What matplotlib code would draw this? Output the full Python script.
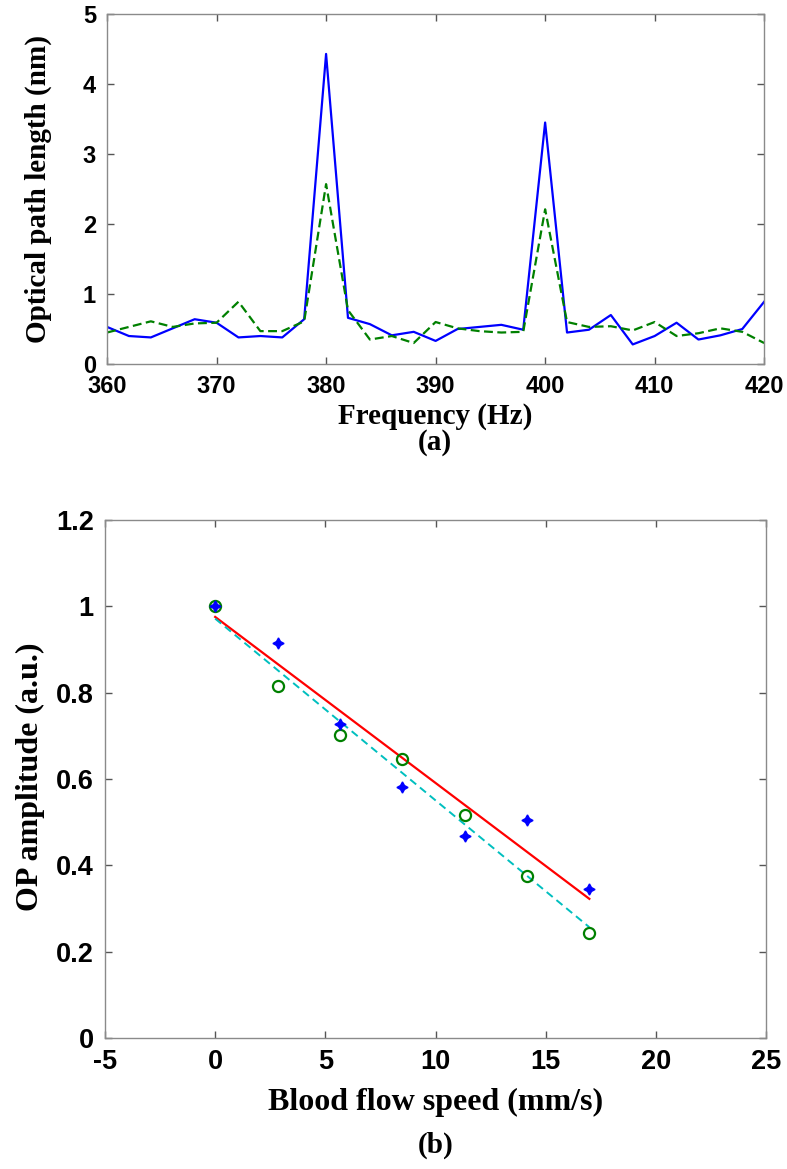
#!/usr/bin/env python3

import numpy as np
import matplotlib
matplotlib.use('Agg')
import matplotlib.pyplot as plt

# (a) spectrum, 2 Hz bins
freq = [360 + 2 * i for i in range(31)]
opl_blue = [0.53, 0.40, 0.38, 0.51, 0.64, 0.59, 0.38, 0.40, 0.38, 0.64,
            4.43, 0.66, 0.57, 0.41, 0.46, 0.33, 0.50, 0.53, 0.56, 0.49,
            3.45, 0.45, 0.49, 0.70, 0.28, 0.40, 0.59, 0.35, 0.41, 0.50, 0.89]
opl_green = [0.45, 0.53, 0.61, 0.53, 0.58, 0.59, 0.89, 0.47, 0.47, 0.61,
             2.57, 0.77, 0.35, 0.40, 0.30, 0.60, 0.51, 0.47, 0.45, 0.46,
             2.21, 0.60, 0.53, 0.54, 0.48, 0.60, 0.40, 0.44, 0.51, 0.46, 0.30]

# (b) amplitude vs flow speed
speed = [0.0, 2.83, 5.66, 8.49, 11.32, 14.15, 16.98]
amp_star = [1.0, 0.915, 0.728, 0.582, 0.468, 0.505, 0.344]
amp_circ = [1.0, 0.816, 0.701, 0.646, 0.516, 0.376, 0.243]

plt.rcParams['axes.unicode_minus'] = False

tick_font = 'Liberation Sans'
lab_font = 'Liberation Serif'
spine_col = '#8a8a8a'
dkgreen = (0, 0.5, 0)


def style_axes(ax, fs):
    for s in ax.spines.values():
        s.set_color(spine_col)
        s.set_linewidth(1.0)
    ax.tick_params(direction='in', length=5, width=1, color='#555555',
                   top=True, right=True, pad=8, labelsize=fs)
    for lab in ax.get_xticklabels() + ax.get_yticklabels():
        lab.set_fontfamily(tick_font)
        lab.set_fontweight('bold')


fig = plt.figure(figsize=(7.87, 11.69), dpi=100)

####### (a)
ax1 = fig.add_axes([0.136, 0.6886, 0.835, 0.2994])
ax1.plot(freq, opl_blue, color='b', linewidth=1.6)
ax1.plot(freq, opl_green, color=dkgreen, linestyle='--', linewidth=1.6,
         dashes=(4, 2))
ax1.set_xlim(360, 420)
ax1.set_ylim(0, 5)
ax1.set_xticks(range(360, 421, 10))
ax1.set_yticks(range(0, 6))
style_axes(ax1, 17)

fig.text(0.5525, 1 - 416 / 1169, 'Frequency (Hz)', ha='center', va='center',
         fontsize=21, fontweight='bold', family=lab_font)
fig.text(0.5525, 1 - 443 / 1169, '(a)', ha='center', va='center',
         fontsize=21, fontweight='bold', family=lab_font)
fig.text(38 / 787, 1 - 189 / 1169, 'Optical path length (nm)', ha='center',
         va='center', rotation=90, fontsize=21, fontweight='bold',
         family=lab_font)

####### (b)
ax2 = fig.add_axes([0.1334, 0.1121, 0.840, 0.4431])
fit_s = np.polyfit(speed, amp_star, 1)
fit_c = np.polyfit(speed, amp_circ, 1)
xs = np.array([speed[0], speed[-1]])
ax2.plot(xs, np.polyval(fit_s, xs), color='r', linewidth=1.6)
ax2.plot(xs, np.polyval(fit_c, xs), color=(0, 0.75, 0.75), linestyle='--',
         linewidth=1.4, dashes=(4, 2.5))
ax2.plot(speed, amp_circ, linestyle='none', marker='o', markersize=8,
         markerfacecolor='none', markeredgecolor=dkgreen, markeredgewidth=1.6)
ax2.plot(speed, amp_star, linestyle='none', marker=(4, 1, 0), markersize=8,
         color='b')
ax2.set_xlim(-5, 25)
ax2.set_ylim(0, 1.2)
ax2.set_xticks(range(-5, 26, 5))
ax2.set_yticks([0, 0.2, 0.4, 0.6, 0.8, 1.0, 1.2])
ax2.set_yticklabels(['0', '0.2', '0.4', '0.6', '0.8', '1', '1.2'])
style_axes(ax2, 19.5)

fig.text(0.553, 1 - 1102 / 1169, 'Blood flow speed (mm/s)', ha='center',
         va='center', fontsize=23, fontweight='bold', family=lab_font)
fig.text(0.553, 1 - 1145 / 1169, '(b)', ha='center', va='center',
         fontsize=21, fontweight='bold', family=lab_font)
fig.text(30 / 787, 1 - 777 / 1169, 'OP amplitude (a.u.)', ha='center',
         va='center', rotation=90, fontsize=23, fontweight='bold',
         family=lab_font)

fig.savefig('out.png', dpi=100)
